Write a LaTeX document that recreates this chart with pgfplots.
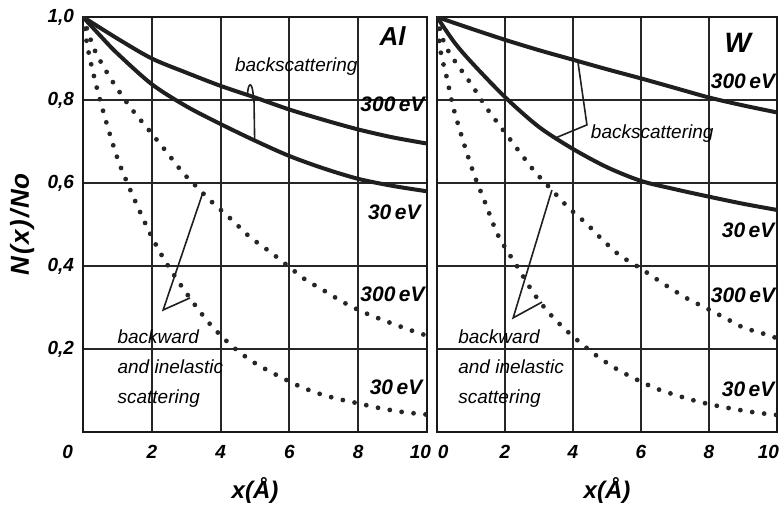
\documentclass[border=0pt]{standalone}
\usepackage{pgfplots}
\pgfplotsset{compat=1.18}
\usepackage{fontspec}
\setmainfont{Liberation Sans}
\tikzset{
  ev/.style={font=\fontsize{10.5}{11}\selectfont\bfseries\itshape},
  txt/.style={font=\fontsize{9.5}{15}\selectfont\itshape},
  ptr/.style={line width=0.8pt, color=black!88},
  sol/.style={line width=2pt, color=black!88, smooth},
  dots/.style={line width=2.4pt, color=black!85, dash pattern=on 0pt off 6pt, line cap=round, smooth},
}
\begin{document}
\begin{tikzpicture}[x=1pt,y=1pt]
\useasboundingbox (-41.5,-40) rectangle (350.5,216);
\pgfplotsset{
  panel/.style={
    scale only axis, height=207.5pt,
    xmin=0, xmax=10, ymin=0, ymax=1,
    xtick={0,2,4,6,8,10}, ytick={0.2,0.4,0.6,0.8,1.0},
    grid=major, major grid style={line width=1pt, color=black!85},
    axis line style={line width=1.3pt, color=black!90},
    major tick length=0pt,
    tick label style={font=\fontsize{9.5}{10}\selectfont\bfseries\itshape},
    /pgf/number format/assume math mode=true,
    xticklabel style={yshift=-3pt},
    xlabel style={at={(axis description cs:0.5,-0.14)}, anchor=center, font=\fontsize{12}{12}\selectfont\bfseries\itshape},
    ylabel style={font=\fontsize{13}{13}\selectfont\bfseries\itshape},
  },
}
% ---------- Al ----------
\begin{axis}[panel, width=172pt, at={(0,0)}, anchor=south west,
  xticklabels={\llap{0\hspace{5pt}},2,4,6,8,{\makebox[0pt][r]{10\hspace{-2pt}}}},
  yticklabels={{0,2},{0,4},{0,6},{0,8},{1,0}},
  yticklabel style={xshift=-1pt},
  xlabel={x(Å)},
  ylabel={N\kern1pt(\kern0.8pt x\kern0.8pt)\kern1pt/\kern1pt No},
  ylabel style={at={(axis description cs:-0.177,0.5)}, anchor=center},
]
\addplot[sol] coordinates {(0,1.0) (1,0.948) (2,0.90) (3,0.866) (4,0.834) (5,0.806) (6,0.777) (7,0.752) (8,0.729) (9,0.71) (10,0.695)};
\addplot[sol] coordinates {(0,1.0) (0.5,0.955) (1,0.912) (2,0.838) (3,0.785) (4,0.742) (5,0.702) (6,0.665) (7,0.635) (8,0.61) (9,0.593) (10,0.58)};
\addplot[dots] coordinates {(0,1) (0.15,0.92) (0.4,0.83) (0.7,0.74) (1.02,0.655) (1.34,0.59) (1.66,0.53) (2.0,0.47) (2.4,0.41) (2.9,0.347) (3.4,0.29) (3.8,0.25) (4.36,0.205) (4.94,0.169) (5.52,0.142) (6.22,0.113) (6.8,0.094) (7.4,0.08) (8.0,0.069) (8.6,0.058) (9.3,0.048) (10,0.042)};
\addplot[dots] coordinates {(0,1) (0.29,0.93) (0.49,0.896) (0.87,0.843) (1.37,0.783) (1.86,0.733) (2.38,0.68) (2.88,0.627) (3.17,0.602) (3.75,0.554) (4.33,0.511) (4.85,0.47) (5.44,0.434) (5.96,0.40) (6.45,0.368) (6.98,0.342) (7.56,0.313) (8.14,0.289) (8.87,0.265) (9.5,0.246) (10,0.232)};
\node[font=\fontsize{13}{13}\selectfont\bfseries\itshape] at (axis cs:9.0,0.955) {Al};
\node[txt] at (axis cs:6.2,0.88) {backscattering};
\node[ev] at (axis cs:9.0,0.79) {300\,eV};
\node[ev] at (axis cs:9.05,0.53) {30\,eV};
\node[ev] at (axis cs:9.0,0.333) {300\,eV};
\node[ev] at (axis cs:9.1,0.108) {30\,eV};
\node[txt, anchor=west, align=left] at (axis cs:0.8,0.152) {backward\\and inelastic\\scattering};
\draw[ptr] (axis cs:4.78,0.812) .. controls (axis cs:4.8,0.845) and (axis cs:4.92,0.845) .. (axis cs:4.95,0.81);
\draw[ptr] (axis cs:4.97,0.807) -- (axis cs:4.99,0.70);
\draw[ptr] (axis cs:3.49,0.578) -- (axis cs:2.33,0.294) -- (axis cs:3.11,0.323);
\end{axis}
% ---------- W ----------
\begin{axis}[panel, width=170pt, at={(177pt,0)}, anchor=south west,
  xticklabels={{\makebox[0pt][l]{\hspace{0.5pt}0}},2,4,6,8,{\makebox[0pt][r]{10\hspace{-1pt}}}},
  yticklabels={},
  xlabel={x(Å)},
]
\addplot[sol] coordinates {(0,1) (1,0.972) (2,0.945) (3,0.92) (4,0.897) (5,0.874) (6,0.852) (7,0.829) (8,0.806) (9,0.787) (10,0.77)};
\addplot[sol] coordinates {(0,1) (0.5,0.94) (1,0.892) (2,0.807) (3,0.735) (4,0.682) (5,0.638) (6,0.605) (7,0.585) (8,0.567) (9,0.55) (10,0.535)};
\addplot[dots] coordinates {(0,1) (0.1,0.92) (0.29,0.853) (0.47,0.785) (0.68,0.725) (0.88,0.672) (1.12,0.614) (1.41,0.554) (1.76,0.48) (2.06,0.437) (2.35,0.40) (2.82,0.337) (3.26,0.29) (3.76,0.248) (4.26,0.212) (4.79,0.178) (5.32,0.15) (5.88,0.126) (6.47,0.104) (7.06,0.088) (7.65,0.074) (8.18,0.064) (8.76,0.055) (9.35,0.047) (10,0.041)};
\addplot[dots] coordinates {(0,1) (0.2,0.94) (0.44,0.904) (0.88,0.853) (1.12,0.824) (1.5,0.776) (1.94,0.728) (2.38,0.68) (2.88,0.627) (3.38,0.583) (3.85,0.542) (4.41,0.501) (4.88,0.462) (5.38,0.425) (5.68,0.41) (6.12,0.387) (6.7,0.355) (7.35,0.322) (7.88,0.3) (8.47,0.275) (9.0,0.252) (9.56,0.238) (10,0.226)};
\node[font=\fontsize{14}{14}\selectfont\bfseries\itshape] at (axis cs:8.85,0.937) {W};
\node[ev] at (axis cs:9.0,0.846) {300\,eV};
\node[txt] at (axis cs:6.33,0.72) {backscattering};
\node[ev] at (axis cs:9.15,0.487) {30\,eV};
\node[ev] at (axis cs:9.0,0.33) {300\,eV};
\node[ev] at (axis cs:9.15,0.104) {30\,eV};
\node[txt, anchor=west, align=left] at (axis cs:0.42,0.152) {backward\\and inelastic\\scattering};
\draw[ptr] (axis cs:4.15,0.889) -- (axis cs:4.41,0.74) -- (axis cs:3.47,0.708);
\draw[ptr] (axis cs:3.38,0.583) -- (axis cs:2.24,0.275) -- (axis cs:3.09,0.313);
\end{axis}
\end{tikzpicture}
\end{document}
